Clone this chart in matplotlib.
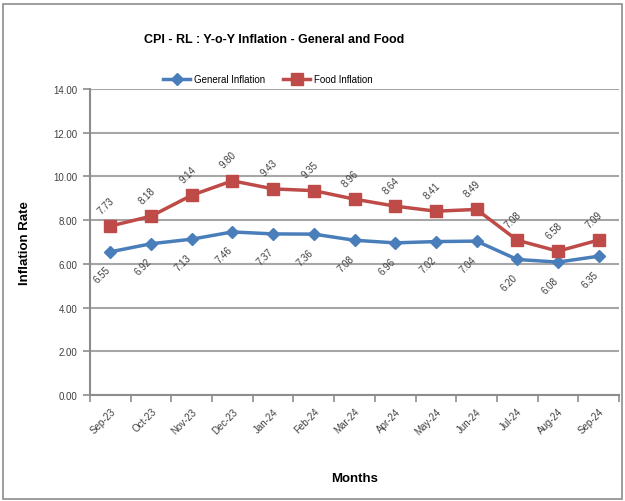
import matplotlib
matplotlib.use("Agg")
import matplotlib.pyplot as plt
from matplotlib.patches import Rectangle

# Data
months = ['Sep-23', 'Oct-23', 'Nov-23', 'Dec-23', 'Jan-24', 'Feb-24', 'Mar-24',
          'Apr-24', 'May-24', 'Jun-24', 'Jul-24', 'Aug-24', 'Sep-24']
general = [6.55, 6.92, 7.13, 7.46, 7.37, 7.36, 7.08, 6.96, 7.02, 7.04, 6.20, 6.08, 6.35]
food = [7.73, 8.18, 9.14, 9.80, 9.43, 9.35, 8.96, 8.64, 8.41, 8.49, 7.08, 6.58, 7.09]
yticks = [0, 2, 4, 6, 8, 10, 12, 14]

plt.rcParams['font.family'] = ['Liberation Sans', 'DejaVu Sans']

fig = plt.figure(figsize=(6.25, 5.02), dpi=100)
ax = fig.add_axes([90 / 625, 1 - 396 / 502, 529 / 625, 306 / 502])

# outer chart border
fig.patches.append(Rectangle((3 / 625, 2 / 502), 619 / 625, 495 / 502,
                             transform=fig.transFigure, fill=False,
                             edgecolor='#8c8c8c', linewidth=1.2))

x = list(range(len(months)))
blue = '#4a7ebb'
red = '#be4b48'
ax.plot(x, general, color=blue, linewidth=2.5, marker='D', markersize=6,
        label='General Inflation')
ax.plot(x, food, color=red, linewidth=2.5, marker='s', markersize=8,
        label='Food Inflation')

for i in x:
    ax.annotate(f'{general[i]:.2f}', (i, general[i]), xytext=(-6, -9),
                textcoords='offset points', rotation=45, ha='center', va='top',
                fontsize=7, color='#404040')
    ax.annotate(f'{food[i]:.2f}', (i, food[i]), xytext=(-3, 8),
                textcoords='offset points', rotation=45, ha='center', va='bottom',
                fontsize=7, color='#404040')

ax.set_xlim(-0.5, len(months) - 0.5)
ax.set_ylim(0, 14)
ax.set_yticks(yticks)
ax.set_yticklabels([f'{v:.2f}' for v in yticks], fontsize=7, color='#404040')
ax.set_xticks([i - 0.5 for i in range(len(months) + 1)], minor=False)
ax.set_xticklabels([])
ax.set_xticks(x, minor=True)
ax.set_xticklabels(months, minor=True, rotation=45, ha='right',
                   rotation_mode='anchor', fontsize=7, color='#404040')
ax.tick_params(axis='x', which='minor', length=0, pad=8)
ax.tick_params(axis='x', which='major', length=5, color='#8c8c8c', width=1.2)
ax.tick_params(axis='y', length=5, color='#8c8c8c', width=1.2, pad=4)

ax.grid(axis='y', color='#a6a6a6', linewidth=1.5)
ax.set_axisbelow(True)
for s in ['top', 'right']:
    ax.spines[s].set_visible(False)
for s in ['left', 'bottom']:
    ax.spines[s].set_color('#8c8c8c')
    ax.spines[s].set_linewidth(1.5)

ax.set_ylabel('Inflation Rate', fontsize=9.5, fontweight='bold', labelpad=16)
ax.set_xlabel('Months', fontsize=9.5, fontweight='bold', labelpad=26)

fig.text(274 / 625, 1 - 40 / 502, 'CPI - RL : Y-o-Y Inflation - General and Food',
         ha='center', va='center', fontsize=9, fontweight='bold')
fig.legend(loc='center', bbox_to_anchor=(268 / 625, 1 - 80 / 502), ncol=2,
           frameon=False, fontsize=7, handlelength=2.8, columnspacing=1.8,
           handletextpad=0.4)

fig.savefig('out.png', dpi=100)
